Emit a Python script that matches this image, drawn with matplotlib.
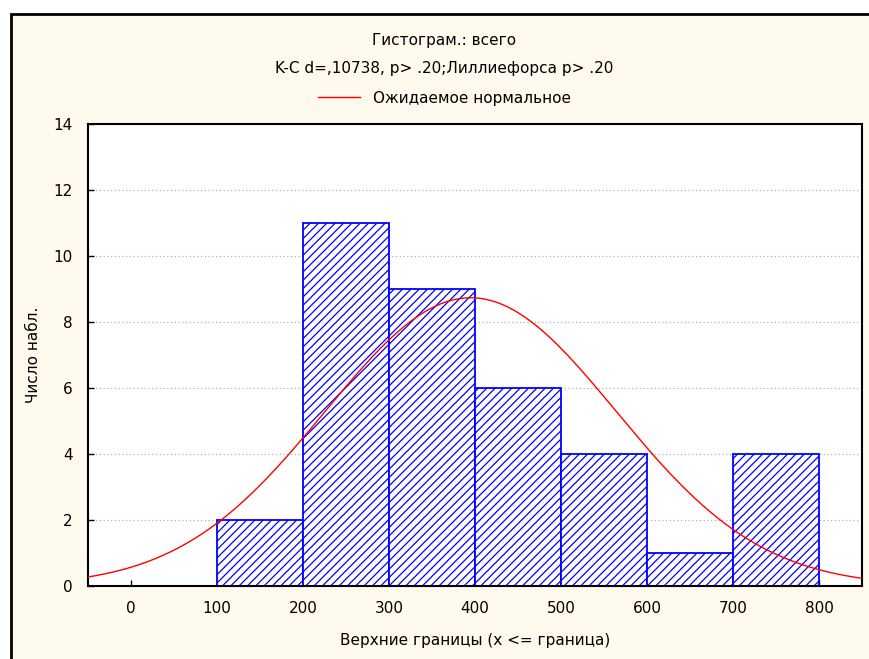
import numpy as np
import matplotlib.pyplot as plt
from matplotlib.patches import Rectangle

# histogram: bins of width 100, upper bounds 200..800
bin_left = [100, 200, 300, 400, 500, 600, 700]
counts = [2, 11, 9, 6, 4, 1, 4]
bin_width = 100

# expected normal curve parameters
mean = 395.0
sd = 169.0
n_obs = sum(counts)

xticks = [0, 100, 200, 300, 400, 500, 600, 700, 800]
yticks = [0, 2, 4, 6, 8, 10, 12, 14]

plt.rcParams['font.family'] = ['DejaVu Sans']
plt.rcParams['hatch.color'] = 'blue'
plt.rcParams['hatch.linewidth'] = 0.9

fig = plt.figure(figsize=(8.69, 6.59), dpi=100)
fig.patch.set_facecolor('white')

# cream panel with black frame
W, H = 869, 659
frame = Rectangle((10.5 / W, -0.05), 1.0, 1 - 13.5 / H + 0.05,
                  transform=fig.transFigure, facecolor='#fff9ee',
                  edgecolor='black', linewidth=2, zorder=-10)
fig.patches.append(frame)

ax = fig.add_axes([88 / W, 1 - 586 / H, (862 - 88) / W, (586 - 124) / H])
ax.set_facecolor('white')

ax.bar(bin_left, counts, width=bin_width, align='edge', color='white',
       edgecolor='blue', hatch='////', linewidth=1.3, zorder=2)

xs = np.linspace(-50, 850, 400)
expected = n_obs * bin_width / (sd * np.sqrt(2 * np.pi)) * np.exp(-0.5 * ((xs - mean) / sd) ** 2)
line, = ax.plot(xs, expected, color='red', linewidth=1.0, zorder=3)

ax.set_xlim(-50, 850)
ax.set_ylim(0, 14)
ax.set_xticks(xticks)
ax.set_yticks(yticks)
ax.tick_params(direction='in', length=4, width=1, labelsize=11, pad=11)
ax.tick_params(axis='y', pad=11)
for s in ax.spines.values():
    s.set_linewidth(1.5)

for y in yticks[1:-1]:
    ax.axhline(y, color='#b0b0b0', linestyle=(0, (1, 2)), linewidth=0.9, zorder=1)

ax.set_xlabel('Верхние границы (x <= граница)', fontsize=11, labelpad=12)
ax.set_ylabel('Число набл.', fontsize=11, labelpad=9)

cx = 444 / W
fig.text(cx, 1 - 40 / H, 'Гистограм.: всего',
         ha='center', va='center', fontsize=11)
fig.text(cx, 1 - 69 / H,
         'K-C d=,10738, p> .20;Лиллиефорса p> .20',
         ha='center', va='center', fontsize=11)
fig.legend([line], ['Ожидаемое нормальное'], loc='center',
           bbox_to_anchor=(cx, 1 - 98 / H),
           frameon=False, fontsize=11, handlelength=2.8, handletextpad=0.8)

fig.savefig('out.png', dpi=100, facecolor=fig.get_facecolor())
